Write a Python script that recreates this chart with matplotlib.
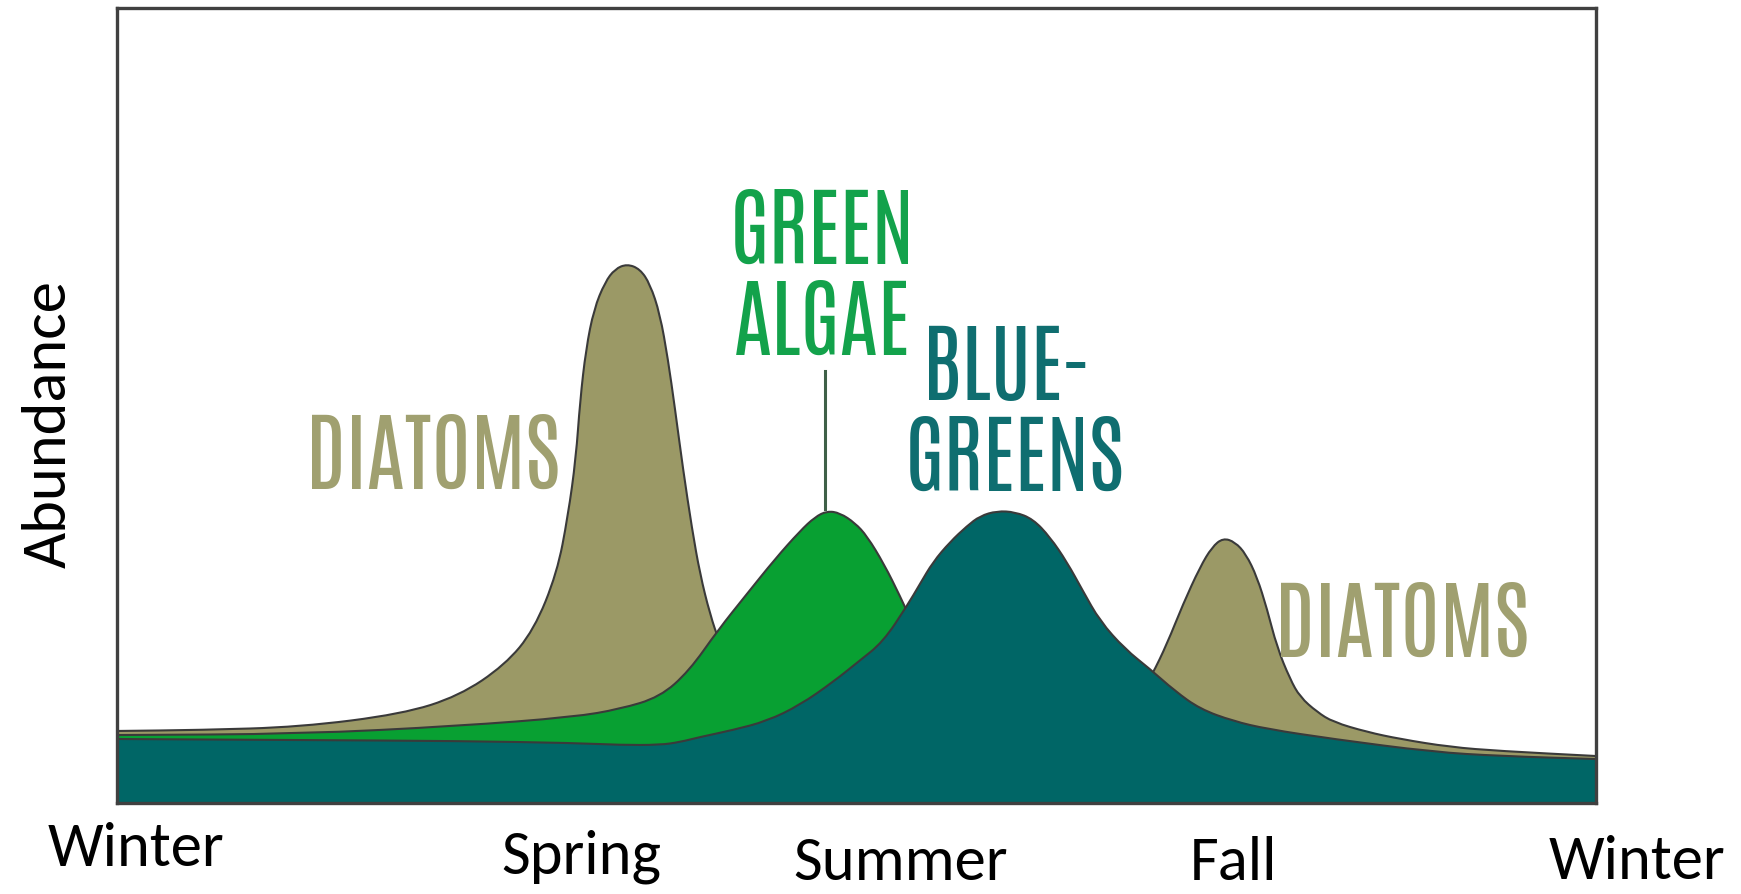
import matplotlib
matplotlib.use('Agg')
import matplotlib.pyplot as plt
from matplotlib import font_manager
from matplotlib.path import Path
from matplotlib.patches import PathPatch

# Seasonal succession of phytoplankton in a lake
# x: position through the year (0 = winter .. 100 = next winter)
# y: relative abundance (0 .. 100)

diatom_x = [0, 5.61, 12.37, 19.27, 23.12, 26.23, 28.19, 29.75, 30.49, 31.03, 31.31, 31.71,
            32.25, 33.00, 33.67, 34.48, 35.36, 36.04, 36.71, 37.25, 37.73, 38.27, 38.88,
            39.42, 40.09, 40.77, 42.12, 44.15, 49.56, 59.70, 66.46, 68.49, 69.98, 70.99,
            72.08, 73.23, 74.04, 74.78, 75.59, 76.33, 77.08, 77.76, 78.43, 79.31, 79.99,
            81.14, 82.22, 84.52, 86.75, 90.13, 93.51, 100]
diatom_y = [9.06, 9.18, 9.56, 11.19, 13.46, 17.36, 21.76, 28.93, 36.10, 43.40, 50.57, 57.11,
            62.14, 65.53, 67.17, 67.80, 67.17, 65.28, 61.51, 55.85, 49.56, 42.01, 34.47,
            28.81, 23.77, 20.00, 14.34, 11.19, 8.68, 7.42, 8.05, 11.19, 16.10, 20.00,
            25.03, 29.69, 32.20, 33.33, 32.83, 31.32, 28.43, 24.40, 19.62, 15.60, 13.33,
            11.45, 10.19, 8.93, 8.05, 7.04, 6.54, 5.91]

green_x = [0, 12.37, 23.12, 30.90, 34.01, 36.71, 38.68, 40.64, 42.53, 44.49, 46.18, 47.19,
           48.01, 48.88, 49.90, 50.71, 51.86, 52.94, 53.96, 55.65, 58.35, 63.08, 73.23,
           86.75, 100]
green_y = [8.55, 8.68, 9.69, 10.82, 11.82, 13.33, 16.60, 21.76, 26.16, 30.69, 34.21, 35.97,
           36.73, 36.48, 35.22, 33.58, 30.06, 26.04, 21.89, 15.60, 10.57, 7.80, 6.79,
           5.53, 4.78]

bluegreen_x = [0, 12.37, 23.12, 30.90, 34.01, 36.71, 38.07, 39.42, 41.65, 43.95, 46.18, 48.41,
               50.10, 51.79, 53.41, 54.29, 55.17, 56.32, 57.47, 58.35, 59.50, 60.72, 61.93,
               63.08, 64.23, 65.31, 66.46, 68.15, 69.84, 71.53, 73.23, 75.46, 77.76, 82.22,
               88.98, 93.51, 100]
bluegreen_y = [8.05, 7.92, 7.80, 7.55, 7.30, 7.30, 7.67, 8.30, 9.18, 10.31, 12.33, 15.22,
               17.74, 20.25, 24.78, 27.55, 30.31, 32.83, 34.84, 36.10, 36.73, 36.60, 35.72,
               33.46, 30.31, 26.67, 22.89, 19.37, 16.86, 14.09, 11.82, 10.31, 9.31, 8.05,
               6.42, 5.91, 5.53]

seasons = ['Winter', 'Spring', 'Summer', 'Fall', 'Winter']
season_x = [1.3, 31.4, 53.0, 75.5, 102.8]
season_label_y = [-0.078, -0.088, -0.0956, -0.0956, -0.0943]   # baselines, axes fraction

# colours
c_diatom = '#9b9966'
c_green = '#08a032'
c_bluegreen = '#006666'
c_edge = '#3a3a3a'

# fonts: pick the first one that is installed
available = {f.name for f in font_manager.fontManager.ttflist}

def pick(*names):
    for n in names:
        if n in available:
            return n
    return 'DejaVu Sans'

label_font = pick('Antonio', 'Pathway Gothic One', 'Oswald', 'Archivo Narrow')
axis_font = pick('Carlito', 'Calibri', 'Lato')


def smooth_path(xs, ys, close=False):
    # quadratic bezier through the midpoints, data points act as control points
    verts = [(xs[0], ys[0]), ((xs[0] + xs[1]) / 2, (ys[0] + ys[1]) / 2)]
    codes = [Path.MOVETO, Path.LINETO]
    for i in range(1, len(xs) - 1):
        verts += [(xs[i], ys[i]), ((xs[i] + xs[i + 1]) / 2, (ys[i] + ys[i + 1]) / 2)]
        codes += [Path.CURVE3, Path.CURVE3]
    verts.append((xs[-1], ys[-1]))
    codes.append(Path.LINETO)
    if close:
        verts += [(xs[-1], 0), (xs[0], 0), (xs[0], ys[0])]
        codes += [Path.LINETO, Path.LINETO, Path.CLOSEPOLY]
    return Path(verts, codes)


fig = plt.figure(figsize=(17.41, 8.95), dpi=100)
ax = fig.add_axes([117 / 1741, 91 / 895, 1479 / 1741, 795 / 895])
ax.set_xlim(0, 100)
ax.set_ylim(0, 100)

# back to front: diatoms, green algae, blue-greens
for xs, ys, col, z in [(diatom_x, diatom_y, c_diatom, 1),
                       (green_x, green_y, c_green, 2),
                       (bluegreen_x, bluegreen_y, c_bluegreen, 3)]:
    ax.add_patch(PathPatch(smooth_path(xs, ys, close=True), facecolor=col, lw=0, zorder=z))
    ax.add_patch(PathPatch(smooth_path(xs, ys), fill=False, edgecolor=c_edge, lw=1.5,
                           zorder=z, joinstyle='round'))

# labels inside the plot
lab_size = 62
kw = dict(fontsize=lab_size, family=label_font, ha='center', va='baseline')
ax.text(21.4, 39.6, 'DIATOMS', color='#a0a070', **kw)
ax.text(86.9, 18.5, 'DIATOMS', color='#a0a070', **kw)
ax.text(47.7, 68.0, 'GREEN', color='#13a24b', **kw)
ax.text(47.7, 56.5, 'ALGAE', color='#13a24b', **kw)
ax.text(60.2, 50.8, 'BLUE-', color='#0f6e70', **kw)
ax.text(60.7, 39.4, 'GREENS', color='#0f6e70', **kw)
ax.plot([47.9, 47.9], [54.3, 37.0], color='#3f6048', lw=2.2, zorder=1.5)

# seasons along the bottom
for name, sx, sy in zip(seasons, season_x, season_label_y):
    ax.text(sx, sy, name, transform=ax.get_xaxis_transform(), fontsize=45,
            family=axis_font, ha='center', va='baseline', clip_on=False)

ax.set_ylabel('Abundance', fontsize=45, family=axis_font, va='center')
ax.yaxis.set_label_coords(-0.046, 0.478)

ax.set_xticks([])
ax.set_yticks([])
for s in ax.spines.values():
    s.set_color('#404040')
    s.set_linewidth(2.4)
    s.set_zorder(5)

fig.savefig('out.png', dpi=100)
